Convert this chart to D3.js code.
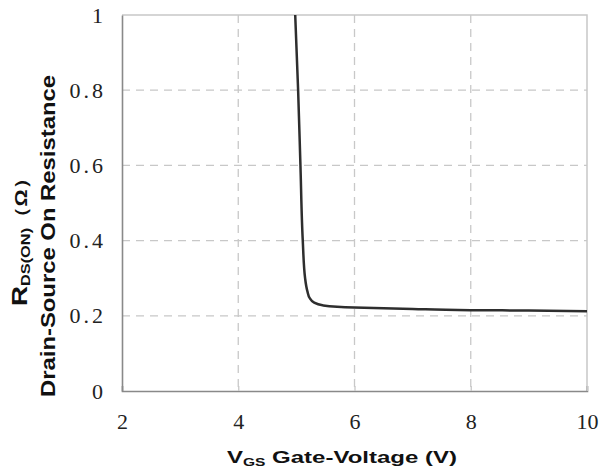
<!DOCTYPE html>
<html>
<head>
<meta charset="utf-8">
<script src="https://cdn.jsdelivr.net/npm/d3@7"></script>
<style>
  body { margin: 0; background: #fff; }
</style>
</head>
<body>
<script>
// Rds(on) vs Vgs
var vgs  = [4.98, 5.03, 5.07, 5.11, 5.15, 5.19, 5.23, 5.3, 5.45, 5.7, 6.0, 7.0, 8.0, 9.0, 10.0];
var rdson = [1.0, 0.8, 0.6, 0.4, 0.3, 0.265, 0.247, 0.236, 0.228, 0.224, 0.222, 0.218, 0.215, 0.214, 0.212];

var xTicks = [2, 4, 6, 8, 10];
var yTicks = [0, 0.2, 0.4, 0.6, 0.8, 1];

var W = 600, H = 475;
// plot box (note: "top" clashes with window.top, so use other names)
var pLeft = 122, pRight = 587, pTop = 15, pBottom = 391;

var svg = d3.select("body").append("svg")
    .attr("width", W)
    .attr("height", H);

var x = d3.scaleLinear().domain([2, 10]).range([pLeft, pRight]);
var y = d3.scaleLinear().domain([0, 1]).range([pBottom, pTop]);

// grid, dashed
svg.append("g").selectAll("line")
    .data(xTicks.slice(1, -1))
    .enter().append("line")
    .attr("x1", d => x(d)).attr("x2", d => x(d))
    .attr("y1", pTop).attr("y2", pBottom)
    .attr("stroke", "#c8c8c8")
    .attr("stroke-width", 1.3)
    .attr("stroke-dasharray", "8,6");

svg.append("g").selectAll("line")
    .data(yTicks.slice(1, -1))
    .enter().append("line")
    .attr("x1", pLeft).attr("x2", pRight)
    .attr("y1", d => y(d)).attr("y2", d => y(d))
    .attr("stroke", "#c8c8c8")
    .attr("stroke-width", 1.3)
    .attr("stroke-dasharray", "8,6");

// top + right frame
svg.append("path")
    .attr("d", "M" + pLeft + "," + pTop + "H" + pRight + "V" + pBottom)
    .attr("fill", "none")
    .attr("stroke", "#c8c8c8")
    .attr("stroke-width", 1.5);

// axes
var xAxis = svg.append("g")
    .attr("transform", "translate(0," + pBottom + ")")
    .call(d3.axisBottom(x).tickValues(xTicks).tickSize(-5).tickPadding(22));
var yAxis = svg.append("g")
    .attr("transform", "translate(" + pLeft + ",0)")
    .call(d3.axisLeft(y).tickValues(yTicks).tickSize(0).tickPadding(16)
        .tickFormat(d => (d === 0 || d === 1) ? String(d) : d.toFixed(1)));

xAxis.select(".domain").attr("stroke", "#898989").attr("stroke-width", 1.6);
yAxis.select(".domain").attr("stroke", "#898989").attr("stroke-width", 1.6);
xAxis.selectAll(".tick line").attr("stroke", "#c8c8c8").attr("stroke-width", 1.3);

svg.selectAll(".tick text")
    .attr("font-family", "'Liberation Serif', 'DejaVu Serif', serif")
    .attr("font-size", 22)
    .attr("fill", "#222");
yAxis.selectAll(".tick text").attr("letter-spacing", 3);

// the curve
var line = d3.line()
    .x(d => x(d[0]))
    .y(d => y(d[1]))
    .curve(d3.curveMonotoneY);

svg.append("path")
    .datum(d3.zip(vgs, rdson))
    .attr("d", line)
    .attr("fill", "none")
    .attr("stroke", "#2e2e2e")
    .attr("stroke-width", 2.5);

// x title
var xt = svg.append("text")
    .attr("x", 227)
    .attr("y", 463)
    .attr("font-family", "'Liberation Sans', Arial, sans-serif")
    .attr("font-weight", "bold")
    .attr("font-size", 17)
    .attr("fill", "#111")
    .attr("textLength", 230)
    .attr("lengthAdjust", "spacingAndGlyphs");
xt.append("tspan").text("V");
xt.append("tspan").attr("font-size", 11).attr("dy", 3).text("GS");
xt.append("tspan").attr("dy", -3).text(" Gate-Voltage (V)");

// y title, two lines
var yt1 = svg.append("text")
    .attr("transform", "translate(27,306) rotate(-90)")
    .attr("font-family", "'Liberation Sans', Arial, sans-serif")
    .attr("font-weight", "bold")
    .attr("font-size", 22)
    .attr("fill", "#111")
    .attr("textLength", 138)
    .attr("lengthAdjust", "spacingAndGlyphs");
yt1.append("tspan").text("R");
yt1.append("tspan").attr("font-size", 13).attr("dy", 3).text("DS(ON)");
yt1.append("tspan").attr("dy", -3).attr("font-size", 17).text("（Ω）");

svg.append("text")
    .attr("transform", "translate(55,397) rotate(-90)")
    .attr("font-family", "'Liberation Sans', Arial, sans-serif")
    .attr("font-weight", "bold")
    .attr("font-size", 20)
    .attr("fill", "#111")
    .attr("textLength", 322)
    .attr("lengthAdjust", "spacingAndGlyphs")
    .text("Drain-Source On Resistance");
</script>
</body>
</html>
